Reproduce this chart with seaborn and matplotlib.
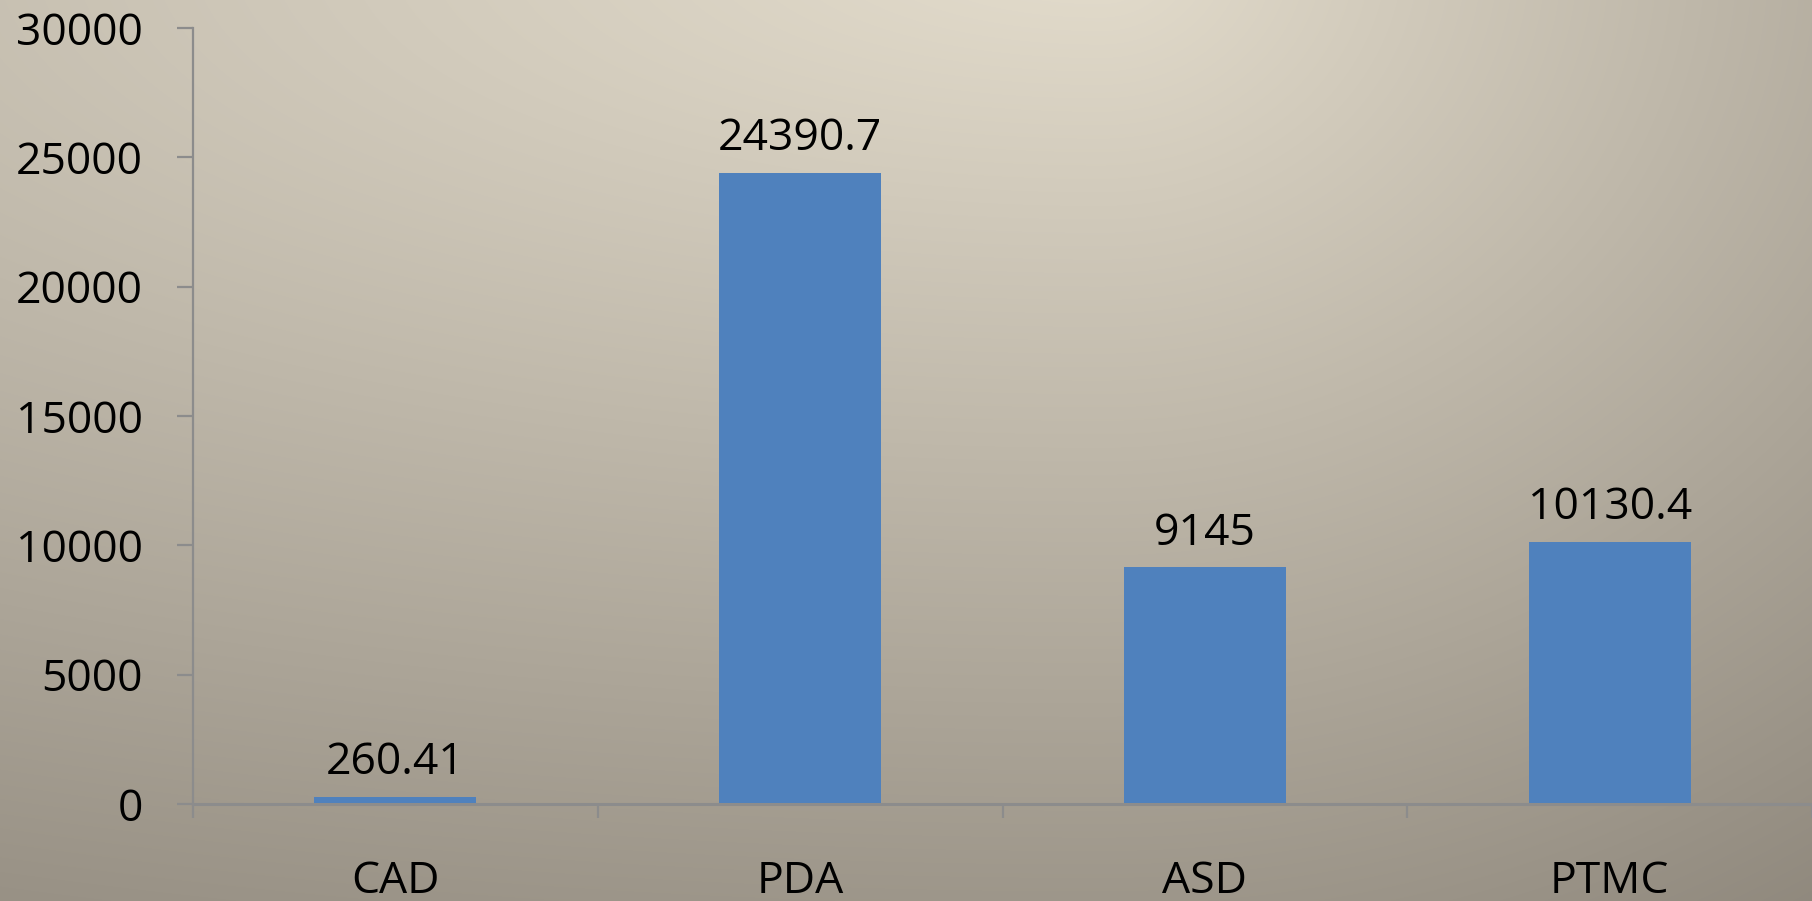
import numpy as np
import pandas as pd
import matplotlib
matplotlib.use("Agg")
import matplotlib.pyplot as plt
import seaborn as sns
from matplotlib.ticker import FixedLocator

categories = ["CAD", "PDA", "ASD", "PTMC"]
values = [260.41, 24390.7, 9145, 10130.4]
value_labels = ["260.41", "24390.7", "9145", "10130.4"]
yticks = [0, 5000, 10000, 15000, 20000, 25000, 30000]

sns.set_style("white")
plt.rcParams["font.family"] = ["Open Sans", "DejaVu Sans"]

W, H = 1812, 901
fig = plt.figure(figsize=(W / 100, H / 100), dpi=100)

# background gradient (style only)
yy, xx = np.mgrid[0:H, 0:W]
cx, cy = 1100.0, -50.0
dx = xx - cx
rx = np.where(dx < 0, 3670.0, 1480.0)
t = np.sqrt((dx / rx) ** 2 + ((yy - cy) / 1250.0) ** 2)
t = np.clip(t, 0, 1)[..., None]
light = np.array([228, 221, 205]) / 255.0
dark = np.array([135, 128, 117]) / 255.0
img = light + (dark - light) * t
bg = fig.add_axes([0, 0, 1, 1], zorder=-10)
bg.imshow(img, aspect="auto", extent=[0, 1, 0, 1], origin="upper")
bg.axis("off")

ax = fig.add_axes([193 / W, (H - 804) / H, (W - 193) / W, (804 - 28) / H])
ax.set_facecolor("none")

df = pd.DataFrame({"cat": categories, "val": values})
sns.barplot(data=df, x="cat", y="val", color="#4F81BD", width=0.4,
            saturation=1, linewidth=0, edgecolor="none", ax=ax, zorder=3)

ax.set_xlim(-0.5, len(categories) - 0.5)
ax.set_ylim(0, 30000)
ax.set_yticks(yticks)
ax.set_yticklabels([str(v) for v in yticks])
ax.set_xlabel("")
ax.set_ylabel("")

for s in ["top", "right"]:
    ax.spines[s].set_visible(False)
axis_col = "#8C8C8C"
ax.spines["left"].set_color(axis_col)
ax.spines["left"].set_linewidth(1.6)
ax.spines["bottom"].set_color(axis_col)
ax.spines["bottom"].set_linewidth(2.2)
ax.spines["bottom"].set_zorder(4)

ax.xaxis.set_minor_locator(FixedLocator(np.arange(-0.5, len(categories), 1.0)))
ax.tick_params(axis="x", which="major", length=0, pad=40, labelsize=32,
               labelcolor="black")
ax.tick_params(axis="x", which="minor", length=10, width=1.6, color=axis_col,
               direction="out", bottom=True)
ax.tick_params(axis="y", which="major", length=11.5, width=1.6, color=axis_col,
               direction="out", pad=24.5, labelsize=32, labelcolor="black", left=True)

for i, (v, lab) in enumerate(zip(values, value_labels)):
    ax.annotate(lab, xy=(i, v), xytext=(0, 16.5), textcoords="offset points",
                ha="center", va="baseline", fontsize=32, color="black")

fig.savefig("out.png", dpi=100)
